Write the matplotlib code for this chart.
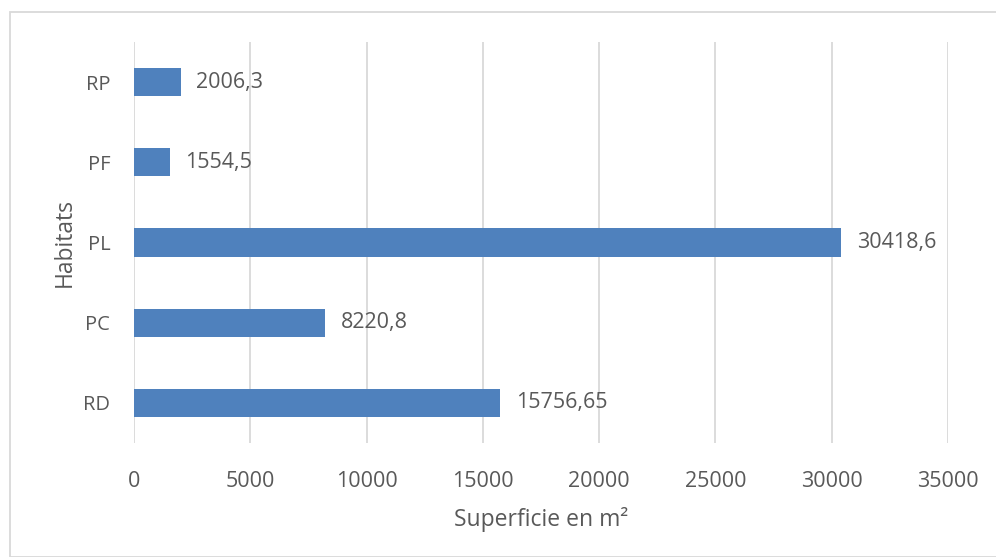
import matplotlib
matplotlib.use("Agg")
import matplotlib.pyplot as plt
from matplotlib.patches import Rectangle

# Data
habitats = ["RD", "PC", "PL", "PF", "RP"]
superficie = [15756.65, 8220.8, 30418.6, 1554.5, 2006.3]
value_labels = ["15756,65", "8220,8", "30418,6", "1554,5", "2006,3"]
x_ticks = [0, 5000, 10000, 15000, 20000, 25000, 30000, 35000]

bar_color = "#4F81BD"
text_color = "#595959"
grid_color = "#D9D9D9"

plt.rcParams["font.family"] = ["Open Sans", "DejaVu Sans"]

fig = plt.figure(figsize=(9.96, 5.57), dpi=100)
ax = fig.add_axes([0.1345, 0.2047, 0.8173, 0.7199])

bars = ax.barh(habitats, superficie, height=0.35, color=bar_color, zorder=3)

for bar, lab in zip(bars, value_labels):
    ax.annotate(
        lab,
        xy=(bar.get_width(), bar.get_y() + bar.get_height() / 2),
        xytext=(11, 0),
        textcoords="offset points",
        va="center",
        ha="left",
        fontsize=15.5,
        color=text_color,
    )

ax.set_xlim(0, 35000)
ax.set_ylim(-0.5, len(habitats) - 0.5)
ax.set_xticks(x_ticks)
ax.set_xticklabels([str(t) for t in x_ticks])
ax.xaxis.grid(True, color=grid_color, linewidth=1.3, zorder=0)
ax.tick_params(axis="both", length=0, labelsize=15.5, labelcolor=text_color)
ax.tick_params(axis="x", pad=20)
ax.tick_params(axis="y", pad=17, labelsize=14.5)
for side in ["top", "right", "bottom", "left"]:
    ax.spines[side].set_visible(False)

ax.set_xlabel("Superficie en m²", fontsize=16.5, color=text_color, labelpad=11)
ax.set_ylabel("Habitats", fontsize=16.5, color=text_color, labelpad=5)

# light frame around the chart area
fig.patches.append(
    Rectangle((10 / 996, 0.0), 1.2, (557 - 12) / 557, transform=fig.transFigure,
              fill=False, edgecolor=grid_color, linewidth=1.3)
)

fig.savefig("out.png", dpi=100)
